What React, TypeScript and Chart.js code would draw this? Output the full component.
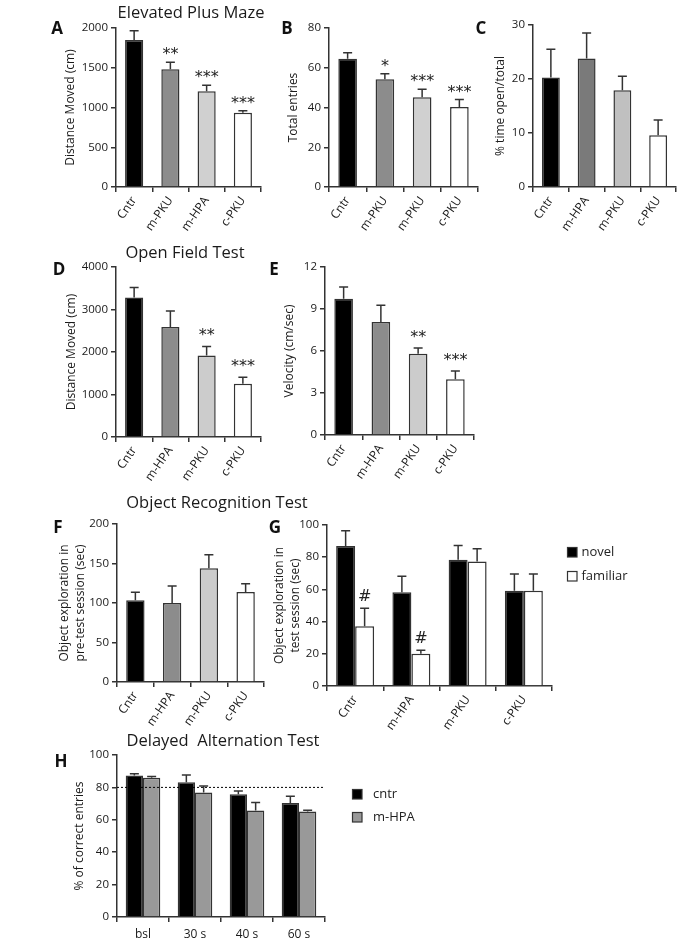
import React, { useEffect, useRef } from 'react';
import { Chart, registerables } from 'chart.js';

Chart.register(...registerables);
Chart.defaults.font.family = "'Open Sans', sans-serif";
Chart.defaults.color = '#222';

// ---------- Panel A: Elevated Plus Maze, distance ----------
const groupsA = ['Cntr', 'm-PKU', 'm-HPA', 'c-PKU'];
const meanA = [1850, 1482, 1205, 933];
const semA = [116, 86, 74, 27];
const sigA = ['', '**', '***', '***'];
const colorsA = ['#000000', '#8c8c8c', '#d0d0d0', '#ffffff'];
const ticksA = { max: 2000, step: 500 };

// ---------- Panel B: total entries ----------
const groupsB = ['Cntr', 'm-PKU', 'm-PKU', 'c-PKU'];
const meanB = [64.5, 54.2, 45.2, 40.2];
const semB = [3.1, 2.8, 4.0, 3.8];
const sigB = ['', '*', '***', '***'];
const colorsB = ['#000000', '#8c8c8c', '#d0d0d0', '#ffffff'];
const ticksB = { max: 80, step: 20 };

// ---------- Panel C: % time open/total ----------
const groupsC = ['Cntr', 'm-HPA', 'm-PKU', 'c-PKU'];
const meanC = [20.3, 23.8, 17.9, 9.6];
const semC = [5.2, 4.7, 2.6, 2.8];
const sigC = ['', '', '', ''];
const colorsC = ['#000000', '#7a7a7a', '#c0c0c0', '#ffffff'];
const ticksC = { max: 30, step: 10 };

// ---------- Panel D: Open field distance ----------
const groupsD = ['Cntr', 'm-HPA', 'm-PKU', 'c-PKU'];
const meanD = [3285, 2590, 1915, 1255];
const semD = [235, 375, 215, 150];
const sigD = ['', '', '**', '***'];
const colorsD = ['#000000', '#8c8c8c', '#cccccc', '#ffffff'];
const ticksD = { max: 4000, step: 1000 };

// ---------- Panel E: velocity ----------
const groupsE = ['Cntr', 'm-HPA', 'm-PKU', 'c-PKU'];
const meanE = [9.74, 8.08, 5.8, 3.99];
const semE = [0.83, 1.19, 0.42, 0.59];
const sigE = ['', '', '**', '***'];
const colorsE = ['#000000', '#8c8c8c', '#cccccc', '#ffffff'];
const ticksE = { max: 12, step: 3 };

// ---------- Panel F: pre-test exploration ----------
const groupsF = ['Cntr', 'm-HPA', 'm-PKU', 'c-PKU'];
const meanF = [103.5, 100, 144, 114];
const semF = [10, 21.5, 17, 10.5];
const sigF = ['', '', '', ''];
const colorsF = ['#000000', '#8c8c8c', '#cccccc', '#ffffff'];
const ticksF = { max: 200, step: 50 };

// ---------- Panel G: test session novel / familiar ----------
const groupsG = ['Cntr', 'm-HPA', 'm-PKU', 'c-PKU'];
const novelG = [87, 58.3, 78.4, 59.1];
const novelSemG = [9.4, 9.9, 8.9, 10.4];
const familiarG = [37.1, 20.1, 77.3, 59.1];
const familiarSemG = [11.2, 2.1, 7.9, 10.4];
const familiarSigG = ['#', '#', '', ''];
const ticksG = { max: 100, step: 20 };

// ---------- Panel H: delayed alternation ----------
const groupsH = ['bsl', '30 s', '40 s', '60 s'];
const cntrH = [87.3, 83.2, 75.8, 70.4];
const cntrSemH = [1.2, 4.4, 2.0, 4.2];
const mhpaH = [86, 76.8, 65.8, 65.2];
const mhpaSemH = [0.8, 4.1, 4.9, 0.7];
const criterionH = 80;
const ticksH = { max: 100, step: 20 };

const none4 = ['', '', '', ''];

type DS = { label: string; data: number[]; sem: number[]; sig: string[]; color: string | string[] };
type Spec = {
  axisX: number; yTop: number; yBottom: number; xRight: number; padRight?: number;
  yTitle: string | string[]; yTitleX: number;
  labels: string[]; datasets: DS[]; yMax: number; yStep: number;
  catPct: number; rotation: number; sigGap: number; labelPad: number;
  legend?: { x: number; y: number; dy: number; textDx: number };
  refLine?: { value: number; xEnd: number };
};

const YW = 80;
const XH = 60;
const PT = 12;
const AX = '#333333';

function Panel({ spec }: { spec: Spec }) {
  const ref = useRef<HTMLCanvasElement>(null);
  const pr = spec.padRight ?? 4;
  const left = Math.round(spec.axisX) - YW;
  const top = Math.round(spec.yTop) - PT;
  const width = Math.round(spec.xRight) - left + pr;
  const height = Math.round(spec.yBottom) - top + XH;
  const titleLH = 1.3;
  const titleSize = 12;

  useEffect(() => {
    if (!ref.current) return;
    const overlay = {
      id: 'overlay',
      afterDatasetsDraw(chart: any) {
        const ctx = chart.ctx as CanvasRenderingContext2D;
        const ys = chart.scales.y;
        const area = chart.chartArea;
        if (spec.refLine) {
          const yy = ys.getPixelForValue(spec.refLine.value);
          ctx.save();
          ctx.strokeStyle = '#000';
          ctx.lineWidth = 1;
          ctx.setLineDash([2, 2]);
          ctx.beginPath();
          ctx.moveTo(area.left, yy);
          ctx.lineTo(spec.refLine.xEnd - left, yy);
          ctx.stroke();
          ctx.restore();
        }
        spec.datasets.forEach((ds, di) => {
          const meta = chart.getDatasetMeta(di);
          meta.data.forEach((bar: any, i: number) => {
            const tp = ys.getPixelForValue(ds.data[i] + ds.sem[i]);
            ctx.save();
            ctx.strokeStyle = AX;
            ctx.lineWidth = 1.5;
            ctx.beginPath();
            ctx.moveTo(bar.x, bar.y);
            ctx.lineTo(bar.x, tp);
            ctx.moveTo(bar.x - 4.5, tp);
            ctx.lineTo(bar.x + 4.5, tp);
            ctx.stroke();
            const s = ds.sig[i];
            if (s) {
              ctx.font = "16px 'DejaVu Sans'";
              ctx.fillStyle = '#222';
              ctx.textAlign = 'center';
              ctx.textBaseline = 'alphabetic';
              const m = ctx.measureText(s);
              const base = tp - spec.sigGap - m.actualBoundingBoxDescent;
              ctx.fillText(s, bar.x, base);
            }
            ctx.restore();
          });
        });
        if (spec.legend) {
          const lg = spec.legend;
          spec.datasets.forEach((ds, di) => {
            const bx = lg.x - left;
            const by = lg.y - top + di * lg.dy;
            ctx.save();
            ctx.fillStyle = ds.color as string;
            ctx.fillRect(bx, by, 10, 10);
            ctx.strokeStyle = AX;
            ctx.lineWidth = 1.2;
            ctx.strokeRect(bx + 0.5, by + 0.5, 9.5, 9.5);
            ctx.fillStyle = '#222';
            ctx.font = "13px 'Open Sans'";
            ctx.textAlign = 'left';
            ctx.textBaseline = 'middle';
            ctx.fillText(ds.label, bx + lg.textDx, by + 5);
            ctx.restore();
          });
        }
      },
    };

    const chart = new Chart(ref.current, {
      type: 'bar',
      data: {
        labels: spec.labels,
        datasets: spec.datasets.map((d) => ({
          label: d.label,
          data: d.data,
          backgroundColor: d.color,
          borderColor: AX,
          borderWidth: 1.5,
          categoryPercentage: spec.catPct,
          barPercentage: 1,
        })),
      },
      options: {
        animation: false,
        responsive: false,
        maintainAspectRatio: false,
        layout: { padding: { top: PT, right: pr, left: 0, bottom: 0 } },
        plugins: { legend: { display: false }, tooltip: { enabled: false } },
        scales: {
          x: {
            type: 'category',
            offset: true,
            grid: { offset: true, drawOnChartArea: false, drawTicks: true, tickLength: 5, color: AX, lineWidth: 1.5 },
            border: { display: true, color: AX, width: 1.5 },
            ticks: {
              autoSkip: false,
              minRotation: spec.rotation,
              maxRotation: spec.rotation,
              padding: spec.labelPad,
              font: { size: 12 },
              color: '#1a1a1a',
            },
            afterFit: (s: any) => { s.height = XH; s.paddingLeft = 0; s.paddingRight = 0; },
          },
          y: {
            min: 0,
            max: spec.yMax,
            grid: { drawOnChartArea: false, drawTicks: true, tickLength: 5, color: AX, lineWidth: 1.5 },
            border: { display: true, color: AX, width: 1.5 },
            ticks: {
              stepSize: spec.yStep,
              padding: 3,
              font: { size: 11.5 },
              color: '#1a1a1a',
              callback: (v: any) => String(v),
            },
            title: {
              display: true,
              text: spec.yTitle,
              font: { size: titleSize, lineHeight: titleLH },
              color: '#1a1a1a',
              padding: { top: spec.yTitleX - left - (titleSize * titleLH) / 2, bottom: 0 },
            },
            afterFit: (s: any) => { s.width = YW; s.paddingTop = 0; s.paddingBottom = 0; },
          },
        },
      },
      plugins: [overlay],
    } as any);
    return () => chart.destroy();
  }, []);

  return (
    <canvas
      ref={ref}
      width={width}
      height={height}
      style={{ position: 'absolute', left, top, width, height }}
    />
  );
}

const single = (data: number[], sem: number[], sig: string[], color: string[]): DS[] => [
  { label: '', data, sem, sig, color },
];

const specs: Spec[] = [
  {
    axisX: 116, yTop: 28, yBottom: 187, xRight: 261, yTitle: 'Distance Moved (cm)', yTitleX: 71,
    labels: groupsA, datasets: single(meanA, semA, sigA, colorsA), yMax: ticksA.max, yStep: ticksA.step,
    catPct: 0.5, rotation: 55, sigGap: 7, labelPad: 2,
  },
  {
    axisX: 329, yTop: 28, yBottom: 187, xRight: 478, yTitle: 'Total entries', yTitleX: 294,
    labels: groupsB, datasets: single(meanB, semB, sigB, colorsB), yMax: ticksB.max, yStep: ticksB.step,
    catPct: 0.5, rotation: 55, sigGap: 7, labelPad: 2,
  },
  {
    axisX: 533, yTop: 25, yBottom: 187, xRight: 676, yTitle: '% time open/total', yTitleX: 501,
    labels: groupsC, datasets: single(meanC, semC, sigC, colorsC), yMax: ticksC.max, yStep: ticksC.step,
    catPct: 0.5, rotation: 55, sigGap: 7, labelPad: 2,
  },
  {
    axisX: 116, yTop: 267, yBottom: 437, xRight: 261, yTitle: 'Distance Moved (cm)', yTitleX: 72,
    labels: groupsD, datasets: single(meanD, semD, sigD, colorsD), yMax: ticksD.max, yStep: ticksD.step,
    catPct: 0.5, rotation: 55, sigGap: 10, labelPad: 2,
  },
  {
    axisX: 325, yTop: 267, yBottom: 435, xRight: 474, yTitle: 'Velocity (cm/sec)', yTitleX: 290,
    labels: groupsE, datasets: single(meanE, semE, sigE, colorsE), yMax: ticksE.max, yStep: ticksE.step,
    catPct: 0.5, rotation: 55, sigGap: 10, labelPad: 2,
  },
  {
    axisX: 117, yTop: 524, yBottom: 682, xRight: 264, yTitle: ['Object exploration in', 'pre-test session (sec)'], yTitleX: 65,
    labels: groupsF, datasets: single(meanF, semF, sigF, colorsF), yMax: ticksF.max, yStep: ticksF.step,
    catPct: 0.5, rotation: 55, sigGap: 8, labelPad: 2,
  },
  {
    axisX: 327, yTop: 525, yBottom: 686, xRight: 552, padRight: 140,
    yTitle: ['Object exploration in', 'test session (sec)'], yTitleX: 280,
    labels: groupsG,
    datasets: [
      { label: 'novel', data: novelG, sem: novelSemG, sig: none4, color: '#000000' },
      { label: 'familiar', data: familiarG, sem: familiarSemG, sig: familiarSigG, color: '#ffffff' },
    ],
    yMax: ticksG.max, yStep: ticksG.step, catPct: 0.675, rotation: 55, sigGap: 7, labelPad: 2,
    legend: { x: 567, y: 547, dy: 24, textDx: 14.5 },
  },
  {
    axisX: 117, yTop: 755, yBottom: 917, xRight: 325, padRight: 120,
    yTitle: '% of correct entries', yTitleX: 80,
    labels: groupsH,
    datasets: [
      { label: 'cntr', data: cntrH, sem: cntrSemH, sig: none4, color: '#000000' },
      { label: 'm-HPA', data: mhpaH, sem: mhpaSemH, sig: none4, color: '#999999' },
    ],
    yMax: ticksH.max, yStep: ticksH.step, catPct: 0.665, rotation: 0, sigGap: 7, labelPad: 5,
    legend: { x: 352, y: 789, dy: 23, textDx: 21 },
    refLine: { value: criterionH, xEnd: 323 },
  },
];

const headings = [
  { text: 'Elevated Plus Maze', x: 191, y: 12 },
  { text: 'Open Field Test', x: 185, y: 252 },
  { text: 'Object Recognition Test', x: 217, y: 502 },
  { text: 'Delayed  Alternation Test', x: 223, y: 740 },
];

const letters = [
  { text: 'A', x: 57, y: 27 },
  { text: 'B', x: 287, y: 27 },
  { text: 'C', x: 481, y: 27 },
  { text: 'D', x: 59, y: 268 },
  { text: 'E', x: 274, y: 268 },
  { text: 'F', x: 58, y: 526 },
  { text: 'G', x: 275, y: 526 },
  { text: 'H', x: 61, y: 760 },
];

export default function App() {
  return (
    <div
      style={{
        position: 'absolute', left: 0, top: 0, width: 700, height: 943,
        background: '#ffffff', overflow: 'hidden', fontFamily: "'Open Sans', sans-serif", color: '#1a1a1a',
      }}
    >
      {specs.map((s, i) => (
        <Panel key={i} spec={s} />
      ))}
      {headings.map((h, i) => (
        <div
          key={'h' + i}
          style={{
            position: 'absolute', left: h.x, top: h.y, transform: 'translate(-50%, -50%)',
            fontSize: 16.5, lineHeight: 1, whiteSpace: 'pre',
          }}
        >
          {h.text}
        </div>
      ))}
      {letters.map((l, i) => (
        <div
          key={'l' + i}
          style={{
            position: 'absolute', left: l.x, top: l.y, transform: 'translate(-50%, -50%)',
            fontSize: 17, fontWeight: 700, lineHeight: 1, color: '#111',
          }}
        >
          {l.text}
        </div>
      ))}
    </div>
  );
}
